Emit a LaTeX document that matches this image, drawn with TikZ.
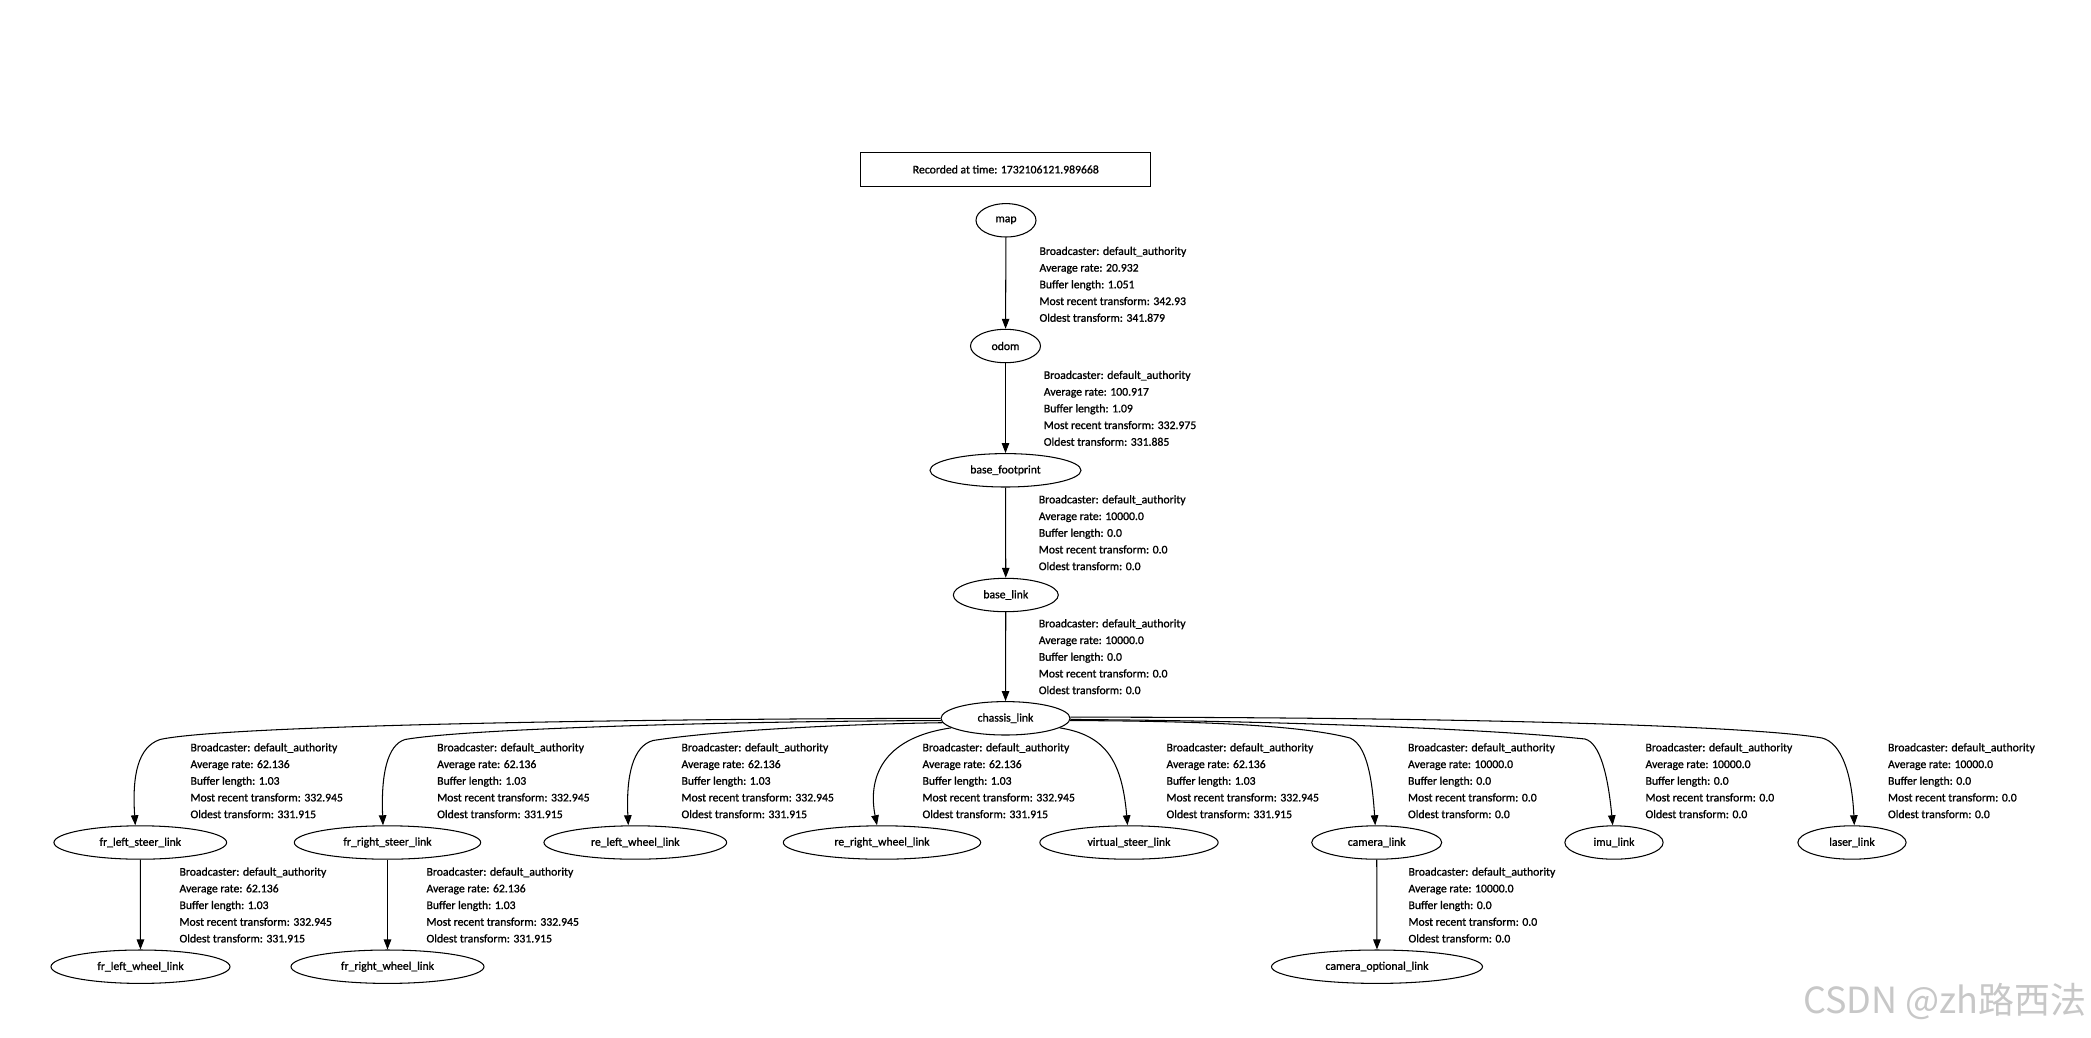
\documentclass[tikz,border=0pt]{standalone}
\usepackage{fontspec}
\setmainfont[FakeBold=1.2,AutoFakeBold=0]{Carlito}
\newfontfamily\tfFace[FakeBold=1.1]{Carlito}
\newfontfamily\wmFont{Noto Sans CJK SC}
\usetikzlibrary{shapes.geometric,arrows.meta}
\newcommand\tfFont{\tfFace\fontsize{11.7pt}{16.7pt}\selectfont}
\newcommand\tfInfo[4]{Broadcaster: default\_authority\\Average rate: #1\\Buffer length: #2\\Most recent transform: #3\\Oldest transform: #4}
\begin{document}
\begin{tikzpicture}[x=1pt,y=-1pt,line width=1.05pt,
  tf/.style={draw, ellipse, inner sep=0pt, minimum height=33.4pt, font=\tfFont},
  lbl/.style={anchor=west, align=left, inner sep=0pt, font=\tfFont},
  tfedge/.style={-{Triangle[length=10pt,width=7.5pt]}}]
\fill[white] (0,0) rectangle (2091,1037);
\useasboundingbox (0,0) rectangle (2091,1037);

\node[draw, rectangle, minimum width=289.7pt, minimum height=33.3pt, inner sep=0pt, font=\tfFont] (rec) at (1005.8,169.4) {Recorded at time: 1732106121.989668};

\node[tf, minimum width=60pt]  (map)  at (1006,220.3) {map};
\node[tf, minimum width=70pt]  (odom) at (1005.5,346) {odom};
\node[tf, minimum width=151pt] (bf)   at (1005.5,470.3) {base\_footprint};
\node[tf, minimum width=105pt] (bl)   at (1005.8,595) {base\_link};
\node[tf, minimum width=129pt] (ch)   at (1005.5,718.3) {chassis\_link};

\node[tf, minimum width=172.7pt] (fls) at (140.3,842.5) {fr\_left\_steer\_link};
\node[tf, minimum width=186.4pt] (frs) at (387.5,842.5) {fr\_right\_steer\_link};
\node[tf, minimum width=182.7pt] (rlw) at (635.3,842.5) {re\_left\_wheel\_link};
\node[tf, minimum width=197.4pt] (rrw) at (882,842.5) {re\_right\_wheel\_link};
\node[tf, minimum width=178.3pt] (vs)  at (1129,842.5) {virtual\_steer\_link};
\node[tf, minimum width=130pt]   (cam) at (1376.7,842.5) {camera\_link};
\node[tf, minimum width=98.3pt]  (imu) at (1614,842.5) {imu\_link};
\node[tf, minimum width=108.3pt] (las) at (1852,842.5) {laser\_link};

\node[tf, minimum width=179pt] (flw) at (140.5,966.7) {fr\_left\_wheel\_link};
\node[tf, minimum width=193pt] (frw) at (387.5,966.7) {fr\_right\_wheel\_link};
\node[tf, minimum width=211pt] (cop) at (1377,966.7) {camera\_optional\_link};

% straight edges
\draw[tfedge] (map) -- (odom);
\draw[tfedge] (odom) -- (bf);
\draw[tfedge] (bf) -- (bl);
\draw[tfedge] (bl) -- (ch);
\draw[tfedge] (fls) -- (flw);
\draw[tfedge] (frs) -- (frw);
\draw[tfedge] (cam) -- (cop);

% curved edges from chassis_link
\draw[tfedge] (ch.180) .. controls (600,719) and (220,726) .. (160,739.5)
  .. controls (138,747) and (132,775) .. ([xshift=-5pt]fls.north);
\draw[tfedge] (ch.182) .. controls (750,721) and (470,728) .. (405,739.5)
  .. controls (387,745) and (381,775) .. ([xshift=-4.5pt]frs.north);
\draw[tfedge] (ch.184) .. controls (850,724) and (720,730) .. (653,740.5)
  .. controls (633,746) and (626,775) .. ([xshift=-7pt]rlw.north);
\draw[tfedge] (ch.190) .. controls (880,738) and (868,780) .. ([xshift=-5pt]rrw.north);
\draw[tfedge] (ch.350) .. controls (1105,735) and (1122,760) .. ([xshift=-1.5pt]vs.north);
\draw[tfedge] (ch.358) .. controls (1200,721) and (1300,725) .. (1350,738)
  .. controls (1366,745) and (1372,775) .. ([xshift=-1.5pt]cam.north);
\draw[tfedge] (ch.359) .. controls (1300,721) and (1500,730) .. (1585,739)
  .. controls (1600,743) and (1608,775) .. ([xshift=-1.3pt]imu.north);
\draw[tfedge] (ch.1) .. controls (1500,717) and (1760,727) .. (1822,738)
  .. controls (1842,743) and (1852,775) .. ([xshift=2.3pt]las.north);

% edge labels
\node[lbl] (l1) at (1039,284.3) {\tfInfo{20.932}{1.051}{342.93}{341.879}};
\node[lbl] (l2) at (1043.3,408.3) {\tfInfo{100.917}{1.09}{332.975}{331.885}};
\node[lbl] (l3) at (1038.3,532.7) {\tfInfo{10000.0}{0.0}{0.0}{0.0}};
\node[lbl] (l4) at (1038.3,656.7) {\tfInfo{10000.0}{0.0}{0.0}{0.0}};

\node[lbl] (l5)  at (190,780.7)    {\tfInfo{62.136}{1.03}{332.945}{331.915}};
\node[lbl] (l6)  at (436.7,780.7)  {\tfInfo{62.136}{1.03}{332.945}{331.915}};
\node[lbl] (l7)  at (681,780.7)    {\tfInfo{62.136}{1.03}{332.945}{331.915}};
\node[lbl] (l8)  at (922,780.7)    {\tfInfo{62.136}{1.03}{332.945}{331.915}};
\node[lbl] (l9)  at (1166,780.7)   {\tfInfo{62.136}{1.03}{332.945}{331.915}};
\node[lbl] (l10) at (1407.5,780.7) {\tfInfo{10000.0}{0.0}{0.0}{0.0}};
\node[lbl] (l11) at (1645,780.7)   {\tfInfo{10000.0}{0.0}{0.0}{0.0}};
\node[lbl] (l12) at (1887.5,780.7) {\tfInfo{10000.0}{0.0}{0.0}{0.0}};

\node[lbl] (l13) at (179,905)    {\tfInfo{62.136}{1.03}{332.945}{331.915}};
\node[lbl] (l14) at (426,905)    {\tfInfo{62.136}{1.03}{332.945}{331.915}};
\node[lbl] (l15) at (1408,905)   {\tfInfo{10000.0}{0.0}{0.0}{0.0}};

% watermark
\node[anchor=east, inner sep=0pt, text=black!22, font=\wmFont\fontsize{36pt}{40pt}\selectfont] (wm) at (2087,1001) {CSDN @zh路西法};
\end{tikzpicture}
\end{document}
